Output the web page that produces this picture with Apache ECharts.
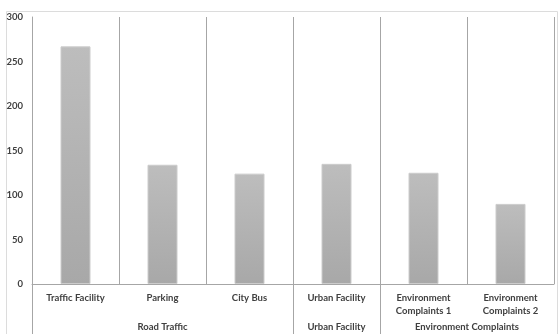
<!DOCTYPE html>
<html>
<head>
<meta charset="utf-8">
<script src="https://cdn.jsdelivr.net/npm/echarts@6/dist/echarts.min.js"></script>
<style>html,body{margin:0;padding:0;background:#fff}#c{width:558px;height:334px}</style>
</head>
<body>
<div id="c"></div>
<script>
const categories = ['Traffic Facility', 'Parking', 'City Bus', 'Urban Facility', 'Environment\nComplaints 1', 'Environment\nComplaints 2'];
const values = [267, 134, 124, 135, 125, 90];
const groups = ['Road Traffic', 'Urban Facility', 'Environment Complaints'];
const groupSpans = [3, 1, 2];
const yMin = 0, yMax = 300, yStep = 50;

const groupStarts = [];
const groupCenters = [];
let acc = 0;
groupSpans.forEach(s => { groupStarts.push(acc); groupCenters.push(acc + s / 2); acc += s; });

const textColor = '#404040';
const lineColor = '#a6a6a6';
const font = 'Lato';

const chart = echarts.init(document.getElementById('c'), null, {renderer: 'canvas'});
chart.setOption({
  animation: false,
  backgroundColor: '#fff',
  graphic: [{
    type: 'rect', left: 4, top: 9, shape: {width: 551, height: 340},
    style: {fill: 'none', stroke: '#dcdcdc', lineWidth: 1}, silent: true, z: -1
  }],
  grid: {left: 32, right: 4, top: 17, bottom: 50, containLabel: false},
  xAxis: [{
    type: 'category',
    data: categories,
    boundaryGap: true,
    axisLine: {show: true, lineStyle: {color: lineColor, width: 1}},
    axisTick: {show: false},
    splitLine: {show: true, lineStyle: {color: lineColor, width: 1}},
    axisLabel: {interval: 0, margin: 8, color: textColor, fontFamily: font, fontWeight: 'bold', fontSize: 9.5, lineHeight: 12.5}
  }, {
    type: 'value',
    position: 'bottom',
    min: 0, max: categories.length,
    axisLine: {show: false},
    splitLine: {show: false},
    axisTick: {show: true, customValues: groupStarts, length: 52, inside: false, lineStyle: {color: lineColor, width: 1}},
    axisLabel: {
      show: true, customValues: groupCenters, margin: 38,
      color: textColor, fontFamily: font, fontWeight: 'bold', fontSize: 9.5,
      formatter: v => { const i = groupCenters.indexOf(v); return i >= 0 ? groups[i] : ''; }
    }
  }],
  yAxis: {
    type: 'value', min: yMin, max: yMax, interval: yStep,
    axisLine: {show: true, lineStyle: {color: lineColor, width: 1}},
    axisTick: {show: false},
    splitLine: {show: false},
    axisLabel: {margin: 9, color: textColor, fontFamily: font, fontWeight: 'bold', fontSize: 9.5}
  },
  series: [{
    type: 'bar',
    data: values,
    xAxisIndex: 0,
    barWidth: 30,
    itemStyle: {
      color: new echarts.graphic.LinearGradient(0, 0, 0, 1, [
        {offset: 0, color: '#bdbdbd'}, {offset: 1, color: '#a8a8a8'}
      ]),
      borderColor: '#cccccc', borderWidth: 1
    }
  }]
});
</script>
</body>
</html>
